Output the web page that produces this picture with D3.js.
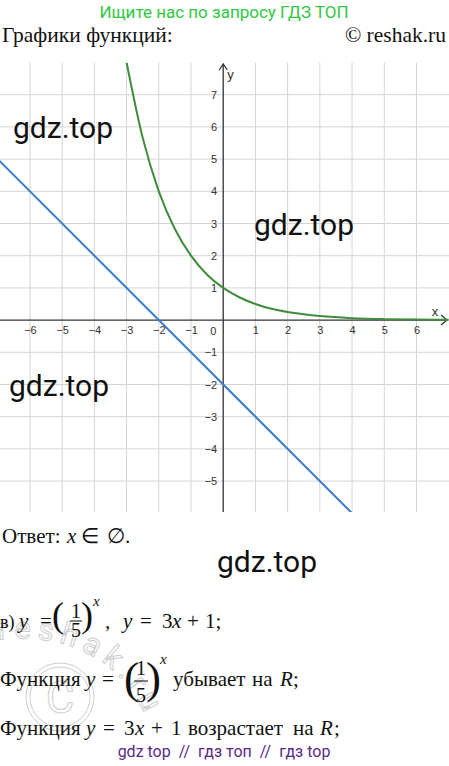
<!DOCTYPE html>
<html>
<head>
<meta charset="utf-8">
<script src="https://cdn.jsdelivr.net/npm/d3@7"></script>
<style>
  body { margin: 0; background: #fff; }
  svg { display: block; }
</style>
</head>
<body>
<div id="chart"></div>
<script>
// tick labels on the axes
const xTicks = [-6, -5, -4, -3, -2, -1, 1, 2, 3, 4, 5, 6];
const yTicks = [-5, -4, -3, -2, -1, 1, 2, 3, 4, 5, 6, 7];

// green curve, points
const expX = [-3, -2.5, -2, -1.5, -1, -0.5, 0, 0.5, 1, 1.5, 2, 2.5, 3, 4, 5, 6, 7];
const expY = [8, 5.66, 4, 2.83, 2, 1.41, 1, 0.71, 0.5, 0.35, 0.25, 0.18, 0.125, 0.06, 0.03, 0.016, 0.008];

// blue line, end points
const lineX = [-7, 4];
const lineY = [5, -6];

// gdz.top watermarks
const marks = [
  {x: 13, y: 138}, {x: 254, y: 235}, {x: 9, y: 396}, {x: 217, y: 572}
];

const W = 449, H = 766;
const svg = d3.select("#chart").append("svg")
    .attr("width", W).attr("height", H);

const x = d3.scaleLinear().domain([-6.93, 7.01]).range([0, 449]);
const y = d3.scaleLinear().domain([8, -5.96]).range([62.5, 512]);

const serif = "'Liberation Serif', 'Times New Roman', serif";
const sans = "Roboto, 'Noto Sans', sans-serif";
const arial = "'Liberation Sans', Arial, sans-serif";

// header
svg.append("text").attr("x", 224).attr("y", 18).attr("text-anchor", "middle")
    .style("font-family", sans).style("font-size", "17px").style("fill", "#2fc83f")
    .text("Ищите нас по запросу ГДЗ ТОП");
svg.append("text").attr("x", 2).attr("y", 42)
    .style("font-family", serif).style("font-size", "21.5px").style("fill", "#111")
    .text("Графики функций:");
svg.append("text").attr("x", 446).attr("y", 42).attr("text-anchor", "end")
    .style("font-family", serif).style("font-size", "21.5px").style("fill", "#111")
    .text("© reshak.ru");

// grid
const grid = svg.append("g").style("stroke", "#d4d4d4").style("stroke-width", 1);
grid.selectAll("line.v").data(xTicks).enter().append("line")
    .attr("x1", d => x(d)).attr("x2", d => x(d))
    .attr("y1", y(8)).attr("y2", y(-5.96));
grid.selectAll("line.h").data(yTicks).enter().append("line")
    .attr("x1", 0).attr("x2", W)
    .attr("y1", d => y(d)).attr("y2", d => y(d));

// axes lines with arrows
const ax = svg.append("g").style("stroke", "#333").style("stroke-width", 1.3).style("fill", "none");
ax.append("line").attr("x1", 0).attr("x2", 447).attr("y1", y(0)).attr("y2", y(0));
ax.append("path").attr("d", `M441,${y(0) - 5}L447,${y(0)}L441,${y(0) + 5}`);
ax.append("line").attr("x1", x(0)).attr("x2", x(0)).attr("y1", y(-5.96)).attr("y2", 64);
ax.append("path").attr("d", `M${x(0) - 4},70L${x(0)},64L${x(0) + 4},70`);

// tick labels
const xAxis = svg.append("g").attr("transform", `translate(0,${y(0)})`)
    .call(d3.axisBottom(x).tickValues(xTicks).tickSize(0).tickPadding(6));
const yAxis = svg.append("g").attr("transform", `translate(${x(0)},0)`)
    .call(d3.axisLeft(y).tickValues(yTicks).tickSize(0).tickPadding(6));
[xAxis, yAxis].forEach(g => {
  g.select(".domain").remove();
  g.selectAll("text").style("font-family", arial)
      .style("font-size", "11px").style("fill", "#333");
});
svg.append("text").attr("x", x(0) - 10).attr("y", y(0) + 15).attr("text-anchor", "middle")
    .style("font-family", arial).style("font-size", "11px").style("fill", "#333")
    .text("0");
svg.append("text").attr("x", 435).attr("y", y(0) - 4).attr("text-anchor", "middle")
    .style("font-family", arial).style("font-size", "13px").style("fill", "#333")
    .text("x");
svg.append("text").attr("x", x(0) + 4).attr("y", 79)
    .style("font-family", arial).style("font-size", "13px").style("fill", "#333")
    .text("y");

// curves
svg.append("clipPath").attr("id", "plot").append("rect")
    .attr("x", 0).attr("y", y(8)).attr("width", W).attr("height", y(-5.96) - y(8));
const plot = svg.append("g").attr("clip-path", "url(#plot)");

const lineGen = d3.line().x(d => x(d[0])).y(d => y(d[1]));
plot.append("path").datum(d3.zip(lineX, lineY))
    .attr("d", lineGen)
    .style("fill", "none").style("stroke", "#3a7fc6").style("stroke-width", 2);
plot.append("path").datum(d3.zip(expX, expY))
    .attr("d", lineGen.curve(d3.curveMonotoneX))
    .style("fill", "none").style("stroke", "#3f8c3f").style("stroke-width", 2);

// reshak watermark (faint, outlined)
const wm = svg.append("g").style("fill", "none").style("stroke", "#cdcdcd").style("stroke-width", 1);
wm.append("circle").attr("cx", 60).attr("cy", 697).attr("r", 34);
wm.append("circle").attr("cx", 60).attr("cy", 697).attr("r", 30);
wm.append("text").attr("x", 60).attr("y", 713).attr("text-anchor", "middle")
    .style("font-family", sans).style("font-size", "44px").text("C");
svg.append("path").attr("id", "wmarc").style("fill", "none")
    .attr("d", "M-2,640 Q112,628 152,730");
wm.append("text").style("font-family", sans).style("font-size", "31px")
    .style("letter-spacing", "6px")
    .append("textPath").attr("href", "#wmarc").text("reshak.ru");

// text below the plot
const T = (px, py, str, size, italic) => svg.append("text")
    .attr("x", px).attr("y", py)
    .style("font-family", serif).style("font-size", (size || 21) + "px")
    .style("font-style", italic ? "italic" : "normal").style("fill", "#111")
    .text(str);
const C = (px, py, str, size) => T(px, py, str, size).attr("text-anchor", "middle");
const bar = (x1, x2, py) => svg.append("line")
    .attr("x1", x1).attr("x2", x2).attr("y1", py).attr("y2", py)
    .style("stroke", "#111").style("stroke-width", 1);

T(2, 543, "Ответ:");
T(67, 543, "x", 21, true);
T(81, 543, "∈", 21);
T(107, 543, "∅.", 21);

// line в)
T(0, 628, "в)", 18);
T(19, 628, "y", 21, true);
T(40, 628, "=", 21);
T(52, 627, "(", 36);
C(76, 618, "1", 20);
bar(70, 82, 621);
C(76, 637, "5", 20);
T(81, 627, ")", 36);
T(93, 606, "x", 15, true);
T(105, 628, ",", 21);
T(123, 628, "y", 21, true);
T(140, 628, "=", 21);
T(162, 628, "3", 21);
T(172, 628, "x", 21, true);
T(187, 628, "+", 21);
T(205, 628, "1;", 21);

// line 2
T(0, 686, "Функция", 21);
T(86, 686, "y", 21, true);
T(102, 686, "=", 21);
T(124, 693, "(", 45);
C(141, 675, "1", 20);
bar(134, 148, 681);
C(141, 702, "5", 20);
T(146, 693, ")", 45);
T(160, 664, "x", 15, true);
T(173, 686, "убывает", 21);
T(252, 686, "на", 21);
T(280, 686, "R", 21, true);
T(293, 686, ";", 21);

// line 3
T(0, 735, "Функция", 21);
T(86, 735, "y", 21, true);
T(103, 735, "=", 21);
T(124, 735, "3", 21);
T(135, 735, "x", 21, true);
T(151, 735, "+", 21);
T(171, 735, "1", 21);
T(188, 735, "возрастает", 21);
T(293, 735, "на", 21);
T(320, 735, "R", 21, true);
T(334, 735, ";", 21);

// footer
svg.append("text").attr("x", 224).attr("y", 757).attr("text-anchor", "middle")
    .style("font-family", sans).style("font-size", "16px").style("fill", "#5a2a8a")
    .attr("xml:space", "preserve")
    .text("gdz top  //  гдз топ  //  гдз top");

svg.selectAll("text.gdz").data(marks).enter().append("text")
    .attr("class", "gdz")
    .attr("x", d => d.x).attr("y", d => d.y)
    .style("font-family", sans).style("font-size", "30px").style("fill", "#111")
    .text("gdz.top");
</script>
</body>
</html>
